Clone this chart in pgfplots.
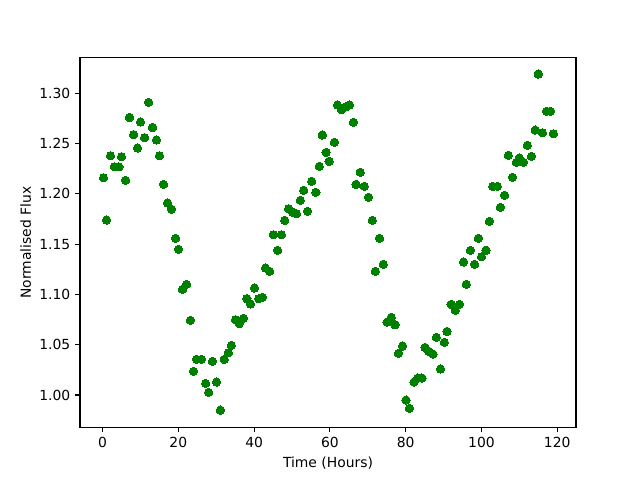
\documentclass[border=0pt]{standalone}
\usepackage{fontspec}
\setmainfont{DejaVu Sans}
\usepackage{pgfplots}
\pgfplotsset{compat=1.18}
\definecolor{mplgreen}{RGB}{0,128,0}
\begin{document}
\begin{tikzpicture}
\useasboundingbox (-57.6pt,-38pt) rectangle (403.2pt,307.6pt);
\begin{axis}[
  scale only axis,
  width=357.1pt, height=266.1pt,
  xmin=-5.95, xmax=124.95,
  ymin=0.968, ymax=1.3355,
  xtick={0,20,40,60,80,100,120},
  ytick={1.00,1.05,1.10,1.15,1.20,1.25,1.30},
  yticklabel style={/pgf/number format/.cd, fixed, fixed zerofill, precision=2},
  /pgf/number format/assume math mode=true,
  tick align=outside,
  major tick length=3.5pt,
  tick style={black, line width=0.8pt},
  axis line style={line width=0.8pt},
  xtick pos=bottom, ytick pos=left,
  ticklabel style={font=\fontsize{10}{12}\selectfont},
  label style={font=\fontsize{10}{12}\selectfont},
  xlabel={Time (Hours)},
  ylabel={Normalised Flux},
  xlabel style={yshift=0pt},
  ylabel style={yshift=-1pt},
]
\addplot[only marks, mark=*, mark size=3pt, mark options={fill=mplgreen, draw=mplgreen, line width=0pt}] coordinates {
(0.26,1.216) (1.06,1.174) (2.1,1.238) (3.09,1.227) (4.33,1.227) (5.01,1.237)
(6.07,1.2135) (7.12,1.276) (8.18,1.259) (9.23,1.2456) (10.03,1.2715) (11.08,1.256)
(12.14,1.291) (13.19,1.266) (14.25,1.2536) (15.04,1.238) (16.1,1.2095) (17.15,1.191)
(18.2,1.1847) (19.26,1.1558) (20.05,1.1449) (21.1,1.105) (22.16,1.110) (23.2,1.0743)
(24.0,1.0236) (24.8,1.0355) (26.1,1.0355) (27.2,1.0116) (28.0,1.0027) (29.0,1.0335)
(30.1,1.0129) (31.1,0.985) (32.1,1.0355) (33.2,1.042) (34.0,1.0494) (35.1,1.0749)
(36.1,1.0709) (37.2,1.0762) (38.1,1.0958) (39.05,1.0905) (40.1,1.1064) (41.2,1.0958)
(42.2,1.0971) (43.0,1.1263) (44.1,1.123) (45.1,1.1594) (46.2,1.1439) (47.2,1.1594)
(48.1,1.1737) (49.1,1.1853) (50.1,1.182) (51.2,1.1803) (52.2,1.1936) (53.1,1.2036)
(54.1,1.1827) (55.2,1.2125) (56.3,1.2016) (57.2,1.2274) (58.0,1.2586) (59.0,1.2413)
(59.8,1.2324) (61.2,1.2513) (62.0,1.2884) (63.1,1.2837) (64.1,1.2864) (65.2,1.2884)
(66.2,1.2712) (66.9,1.2095) (68.0,1.2215) (69.1,1.2075) (70.2,1.1966) (71.2,1.1737)
(72.0,1.123) (73.1,1.1558) (74.1,1.130) (75.1,1.0726) (76.2,1.0773) (77.2,1.0699)
(78.1,1.0415) (79.2,1.0487) (80.1,0.995) (81.0,0.9868) (82.2,1.0129) (83.2,1.0169)
(84.3,1.0169) (85.1,1.0474) (86.1,1.0435) (87.2,1.0408) (88.1,1.0574) (89.2,1.0259)
(90.2,1.0524) (90.9,1.0633) (92.0,1.0902) (93.1,1.0842) (94.2,1.0902) (95.3,1.1323)
(96.0,1.1101) (97.1,1.1439) (98.2,1.130) (99.2,1.1558) (100.0,1.1375) (101.2,1.1439)
(102.1,1.1727) (103.0,1.2075) (104.2,1.2075) (105.0,1.1867) (106.1,1.1986) (107.1,1.2384)
(108.2,1.2165) (109.2,1.2314) (110.0,1.2357) (111.1,1.2314) (112.1,1.2483) (113.2,1.2374)
(114.2,1.2635) (115.0,1.3192) (116.1,1.2608) (117.2,1.2821) (118.2,1.2821) (119.0,1.2598)
};
\end{axis}
\end{tikzpicture}
\end{document}
